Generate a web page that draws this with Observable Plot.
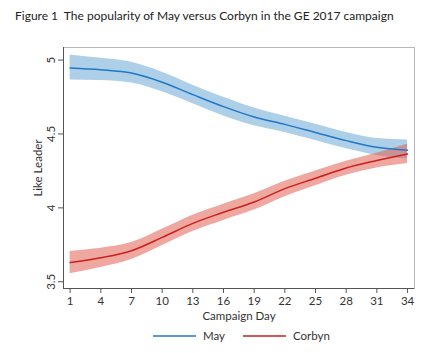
<!DOCTYPE html>
<html>
<head>
<meta charset="utf-8">
<script src="https://cdn.jsdelivr.net/npm/d3@7"></script>
<script src="https://cdn.jsdelivr.net/npm/@observablehq/plot@0.6"></script>
<style>
  body { margin: 0; background: #fff; font-family: Lato, "Open Sans", sans-serif; }
  #title { height: 40px; box-sizing: border-box; padding: 8px 0 0 15px; font-size: 12px; color: #222; white-space: nowrap; }
  #legend { display: flex; font-size: 11.5px; color: #333; margin-left: 153px; margin-top: 5px; align-items: center; }
  .item { display: flex; align-items: center; margin-right: 18px; }
  .item svg { margin-right: 7px; }
</style>
</head>
<body>
<div id="title">Figure 1&nbsp; The popularity of May versus Corbyn in the GE 2017 campaign</div>
<div id="chart"></div>
<div id="legend"></div>
<script>
const days = [1, 4, 7, 10, 13, 16, 19, 22, 25, 28, 31, 34];
const mayMean  = [4.947, 4.935, 4.912, 4.850, 4.766, 4.685, 4.615, 4.565, 4.510, 4.455, 4.410, 4.390];
const mayUpper = [5.035, 5.012, 4.985, 4.918, 4.830, 4.748, 4.675, 4.620, 4.565, 4.510, 4.470, 4.460];
const mayLower = [4.865, 4.862, 4.845, 4.785, 4.705, 4.622, 4.555, 4.510, 4.455, 4.400, 4.355, 4.330];
const corMean  = [3.630, 3.662, 3.710, 3.800, 3.895, 3.970, 4.040, 4.130, 4.200, 4.270, 4.320, 4.365];
const corUpper = [3.705, 3.727, 3.765, 3.855, 3.950, 4.025, 4.095, 4.180, 4.250, 4.315, 4.370, 4.430];
const corLower = [3.555, 3.597, 3.650, 3.745, 3.840, 3.915, 3.985, 4.075, 4.150, 4.220, 4.270, 4.300];
const xTicks = [1, 4, 7, 10, 13, 16, 19, 22, 25, 28, 31, 34];
const yTicks = [3.5, 4, 4.5, 5];
const series = ["May", "Corbyn"];
const lineColors = ["#1f78c8", "#cc1f1f"];
const bandColors = ["#6aa8d4", "#e06050"];
const xDomain = [0.35, 34.68];
const yDomain = [3.4545, 5.085];

const rows = [];
days.forEach((d, i) => {
  rows.push({day: d, leader: "May", mean: mayMean[i], lo: mayLower[i], hi: mayUpper[i]});
  rows.push({day: d, leader: "Corbyn", mean: corMean[i], lo: corLower[i], hi: corUpper[i]});
});

const font = "Lato, 'Open Sans', sans-serif";
const plot = Plot.plot({
  width: 440,
  height: 284,
  marginLeft: 63,
  marginRight: 26,
  marginTop: 7,
  marginBottom: 36,
  style: {fontFamily: font, fontSize: "11.5px", color: "#333", background: "#fff"},
  x: {domain: xDomain},
  y: {domain: yDomain},
  color: {domain: series, range: bandColors},
  marks: [
    Plot.frame({stroke: "#b8b8b8"}),
    Plot.areaY(rows, {x: "day", y1: "lo", y2: "hi", z: "leader", fill: "leader", fillOpacity: 0.55, curve: "monotone-x"}),
    Plot.lineY(rows, {x: "day", y: "mean", z: "leader", stroke: d => lineColors[series.indexOf(d.leader)], strokeWidth: 1.5, curve: "monotone-x"}),
    Plot.ruleX([xDomain[0]], {stroke: "#555", strokeWidth: 1}),
    Plot.ruleY([yDomain[0]], {stroke: "#555", strokeWidth: 1}),
    Plot.axisX({ticks: xTicks, tickSize: 5, tickPadding: 3, stroke: "#555", label: "Campaign Day", labelAnchor: "center", labelArrow: "none", labelOffset: 31}),
    Plot.axisY({ticks: yTicks, tickSize: 5, tickPadding: 4, tickRotate: -90, stroke: "#555", tickFormat: d => String(d), label: "Like Leader", labelAnchor: "center", labelArrow: "none", labelOffset: 30})
  ]
});
document.getElementById("chart").appendChild(plot);

const legend = document.getElementById("legend");
series.forEach((s, i) => {
  const item = document.createElement("div");
  item.className = "item";
  item.innerHTML = `<svg width="43" height="4"><line x1="0" y1="2" x2="43" y2="2" stroke="${lineColors[i]}" stroke-width="1.6"/></svg><span>${s}</span>`;
  legend.appendChild(item);
});
</script>
</body>
</html>
